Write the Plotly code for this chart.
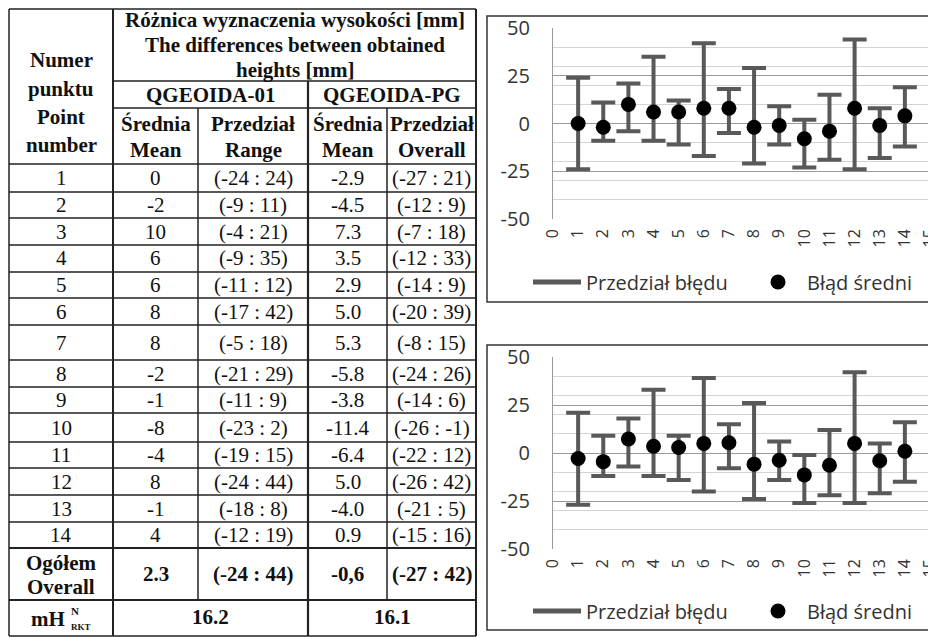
import plotly.graph_objects as go

# ---------------- data ----------------
points = list(range(1, 15))
mean_01 = [0, -2, 10, 6, 6, 8, 8, -2, -1, -8, -4, 8, -1, 4]
low_01 = [-24, -9, -4, -9, -11, -17, -5, -21, -11, -23, -19, -24, -18, -12]
high_01 = [24, 11, 21, 35, 12, 42, 18, 29, 9, 2, 15, 44, 8, 19]
mean_pg = [-2.9, -4.5, 7.3, 3.5, 2.9, 5.0, 5.3, -5.8, -3.8, -11.4, -6.4, 5.0, -4.0, 0.9]
low_pg = [-27, -12, -7, -12, -14, -20, -8, -24, -14, -26, -22, -26, -21, -15]
high_pg = [21, 9, 18, 33, 9, 39, 15, 26, 6, -1, 12, 42, 5, 16]
overall_row = ["2.3", "(-24 : 44)", "-0,6", "(-27 : 42)"]
mh_values = ["16.2", "16.1"]
x_ticks = list(range(0, 16))
y_ticks = [-50, -25, 0, 25, 50]
y_tick_text = ["-50", "-25", "0", "25", "50"]
legend_names = ["Przedział błędu", "Błąd średni"]

# ---------------- layout helpers ----------------
W, H = 936, 637
OFF = 8  # page body margin compensation


def X(px):
    return (px - OFF) / W


def Y(py):
    return 1 - (py - OFF) / H


fig = go.Figure()
SERIF = "Liberation Serif"
SANS = "Open Sans"

shapes = []
annots = []


def line(x0, y0, x1, y1, w=1.5, c="#222"):
    shapes.append(dict(type="line", xref="paper", yref="paper", x0=X(x0), y0=Y(y0),
                       x1=X(x1), y1=Y(y1), line=dict(color=c, width=w)))


def text(x, y, s, size=21, bold=False, font=SERIF, color="#111", xanchor="center"):
    annots.append(dict(xref="paper", yref="paper", x=X(x), y=Y(y),
                       text=("<b>%s</b>" % s) if bold else s,
                       showarrow=False, xanchor=xanchor, yanchor="middle",
                       font=dict(family=font, size=size, color=color)))


# ---------------- table ----------------
L, C1, C2, C3, C4, R = 9, 113, 198, 308, 387, 476
row_edges = [164, 192, 218, 245, 272, 298, 325, 360, 387, 413, 442, 468, 495, 522, 548]
TOP, OVR_BOT, BOT = 9, 600, 636

for y in [TOP] + row_edges + [OVR_BOT, BOT]:
    wd = 2.2 if y in (548, 600) else 1.5
    line(L, y, R, y, w=wd)
for y in (81, 108):
    line(C1, y, R, y)
line(L, TOP, L, BOT)
line(C1, TOP, C1, BOT, w=2)
line(C3, 81, C3, BOT, w=2.2)
line(C2, 108, C2, OVR_BOT)
line(C4, 108, C4, OVR_BOT)
line(R, TOP, R, BOT, w=2)

# header
hx = (C1 + R) / 2
text(hx, 20, "Różnica wyznaczenia wysokości [mm]", bold=True)
text(hx, 45, "The differences between obtained", bold=True)
text(hx, 70, "heights [mm]", bold=True)
for s, yy in zip(["Numer", "punktu", "Point", "number"], [60, 89, 117, 145]):
    text((L + C1) / 2, yy, s, bold=True)
text((C1 + C3) / 2, 95, "QGEOIDA-01", bold=True)
text((C3 + R) / 2, 95, "QGEOIDA-PG", bold=True)
for xc, a, b in [((C1 + C2) / 2, "Średnia", "Mean"), ((C2 + C3) / 2, "Przedział", "Range"),
                 ((C3 + C4) / 2, "Średnia", "Mean"), ((C4 + R) / 2, "Przedział", "Overall")]:
    text(xc, 124, a, bold=True)
    text(xc, 150, b, bold=True)

# body
for i, p in enumerate(points):
    yc = (row_edges[i] + row_edges[i + 1]) / 2
    text((L + C1) / 2, yc, str(p))
    text((C1 + C2) / 2, yc, "%d" % mean_01[i])
    text((C2 + C3) / 2, yc, "(%d : %d)" % (low_01[i], high_01[i]))
    text((C3 + C4) / 2, yc, "%.1f" % mean_pg[i])
    text((C4 + R) / 2, yc, "(%d : %d)" % (low_pg[i], high_pg[i]))

yo = (548 + 600) / 2
text((L + C1) / 2, 563, "Ogółem", bold=True)
text((L + C1) / 2, 587, "Overall", bold=True)
for xc, s in zip([(C1 + C2) / 2, (C2 + C3) / 2, (C3 + C4) / 2, (C4 + R) / 2], overall_row):
    text(xc, yo, s, bold=True)

text(48, 619, "mH", bold=True)
text(75, 611, "N", size=11, bold=True)
text(81, 627, "RKT", size=9, bold=True)
text((C1 + C3) / 2, 617, mh_values[0], bold=True)
text((C3 + R) / 2, 617, mh_values[1], bold=True)

# ---------------- charts ----------------
PL, PR = 553, 930
charts = [
    dict(mean=mean_01, lo=low_01, hi=high_01, top=28, bot=219, box=(487, 16, 944, 302), leg=282),
    dict(mean=mean_pg, lo=low_pg, hi=high_pg, top=357, bot=549, box=(487, 345, 944, 630), leg=611),
]
BAR = "#595959"
layout_axes = {}
for k, ch in enumerate(charts):
    n = "" if k == 0 else str(k + 1)
    xa, ya = "x" + n, "y" + n
    lg = "legend" + n
    fig.add_trace(go.Scatter(x=[None], y=[None], mode="lines", name=legend_names[0],
                             line=dict(color=BAR, width=5), xaxis=xa, yaxis=ya, legend=lg))
    fig.add_trace(go.Scatter(
        x=points, y=ch["mean"], mode="markers", name=legend_names[1],
        marker=dict(color="black", size=15),
        error_y=dict(type="data", symmetric=False,
                     array=[h - m for h, m in zip(ch["hi"], ch["mean"])],
                     arrayminus=[m - l for m, l in zip(ch["mean"], ch["lo"])],
                     color=BAR, thickness=4, width=12),
        xaxis=xa, yaxis=ya, legend=lg))
    layout_axes["xaxis" + n] = dict(
        domain=[X(PL), X(PR)], range=[0, 15], anchor=ya, tickvals=x_ticks,
        ticktext=[str(v) for v in x_ticks], tickangle=-90, showgrid=False, zeroline=False,
        showline=False, ticks="", ticklabelstandoff=6, automargin=False,
        tickfont=dict(family=SANS, size=16, color="#333"))
    layout_axes["yaxis" + n] = dict(
        domain=[Y(ch["bot"]), Y(ch["top"])], range=[-50, 50], anchor=xa, tickvals=y_ticks,
        ticktext=y_tick_text,
        showgrid=True, gridcolor="#9a9a9a", gridwidth=1.2, zeroline=False,
        showline=True, linecolor="#9a9a9a", linewidth=1.2, ticks="", ticklabelstandoff=18,
        automargin=False, tickfont=dict(family=SANS, size=20, color="#333"),
        minor=dict(dtick=10, tick0=0, showgrid=True, gridcolor="#d4d4d4", gridwidth=1))
    layout_axes[lg] = dict(orientation="h", x=X(528), y=Y(ch["leg"]), xanchor="left",
                           yanchor="middle", itemwidth=48, entrywidth=158,
                           bgcolor="rgba(0,0,0,0)",
                           font=dict(family=SANS, size=20, color="#333"), traceorder="normal")
    bx = ch["box"]
    shapes.append(dict(type="rect", xref="paper", yref="paper", x0=X(bx[0]), y0=Y(bx[3]),
                       x1=X(bx[2]), y1=Y(bx[1]), line=dict(color="#333", width=1.5)))

fig.update_layout(width=W, height=H, margin=dict(l=0, r=0, t=0, b=0, autoexpand=False),
                  paper_bgcolor="white", plot_bgcolor="white",
                  shapes=shapes, annotations=annots, showlegend=True, **layout_axes)

fig.write_html("out.html")
